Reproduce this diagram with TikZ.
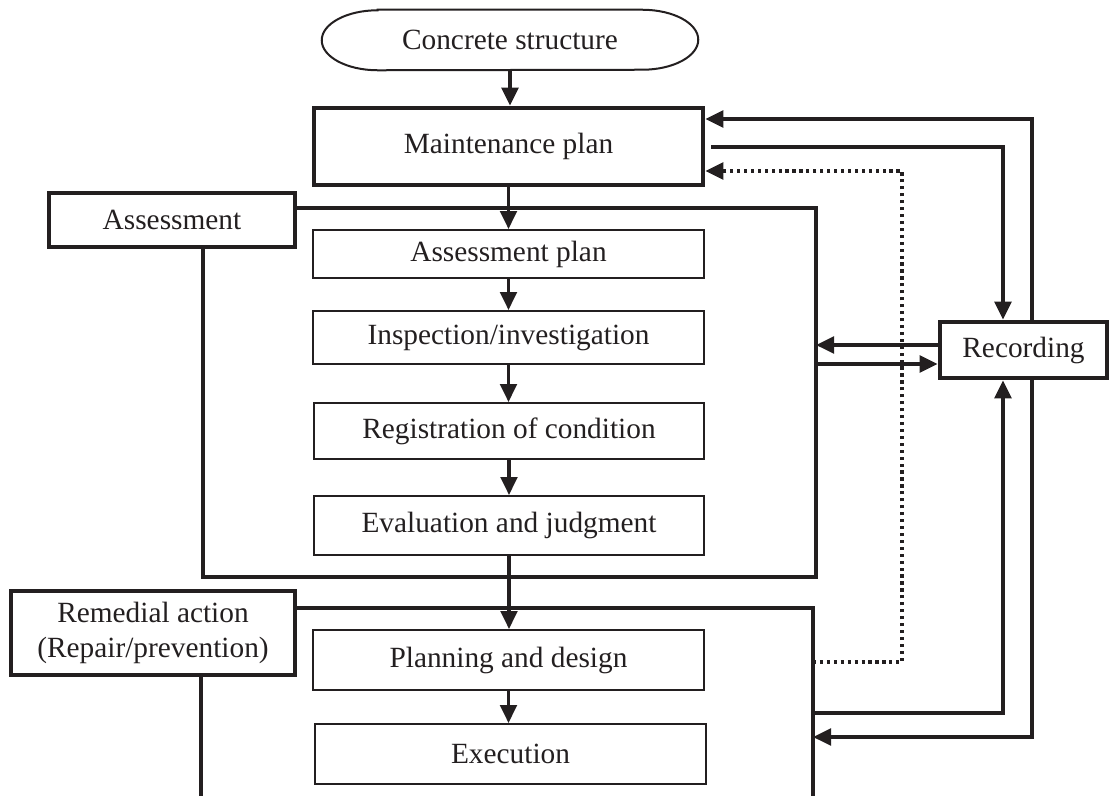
\documentclass[tikz,border=0pt]{standalone}
\usepackage{fontspec}
\setmainfont{Liberation Serif}
\usetikzlibrary{arrows.meta,calc}
\definecolor{ink}{RGB}{35,31,32}
\begin{document}
\begin{tikzpicture}[x=0.75pt,y=-0.75pt,
  every node/.style={font=\fontsize{22}{26}\selectfont, text=ink, inner sep=0pt, align=center},
  stepbox/.style={draw=ink, line width=1.5pt, minimum width=293pt},
  heavybox/.style={draw=ink, line width=3.5pt},
  conn/.style={draw=ink, line width=2.5pt},
  arr/.style={conn, -{Triangle[length=13.5pt,width=12.5pt]}},
  frameline/.style={draw=ink, line width=2.5pt},
  feedback/.style={draw=ink, line width=2.7pt, dash pattern=on 2.4pt off 2.8pt,
                   -{Triangle[length=13.5pt,width=12.5pt]}},
]
\useasboundingbox (0,0) rectangle (1110,796);

% start terminal with elliptical ends
\node[minimum width=282pt, minimum height=45pt] (cs) at (510,40) {Concrete structure};
\draw[ink, line width=1.5pt]
  ($(cs.north west)+(42pt,0)$) -- ($(cs.north east)+(-42pt,0)$)
  arc[start angle=90, end angle=-90, x radius=42pt, y radius=22.5pt]
  -- ($(cs.south west)+(42pt,0)$)
  arc[start angle=270, end angle=90, x radius=42pt, y radius=22.5pt] -- cycle;

% main boxes
\node[heavybox, minimum width=291.75pt, minimum height=57.75pt] (mp) at (508.5,146.5) {Maintenance plan};
\node[heavybox, minimum width=184.5pt, minimum height=40.5pt] (al) at (172,220) {Assessment};
\node[stepbox, minimum height=36pt]    (ap)  at (508.5,254)   {Assessment plan};
\node[stepbox, minimum height=39.75pt] (ins) at (508.5,337.5) {Inspection/investigation};
\node[stepbox, minimum height=42pt]    (reg) at (509,431)     {Registration of condition};
\node[stepbox, minimum height=44.25pt] (ev)  at (509,525.5)   {Evaluation and judgment};
\node[heavybox, minimum width=213pt, minimum height=63pt] (rl) at (153,633) {Remedial action\\(Repair/prevention)};
\node[stepbox, minimum height=45pt]    (pd)  at (508.5,660)   {Planning and design};
\node[stepbox, minimum height=45pt]    (ex)  at (510.5,754)   {Execution};
\node[heavybox, minimum width=125.25pt, minimum height=42pt] (rec) at (1023.5,350) {Recording};

% group frames
\coordinate (afTR) at (816,208);
\coordinate (afBL) at (203,577);
\coordinate (rfTR) at (813,608);
\coordinate (rfBR) at (813,796);
\coordinate (rfBL) at (201,796);
\draw[frameline] (al.east |- afTR) -- (afTR) -- (afTR |- afBL) -- (afBL) -- (afBL |- al.south);
\draw[frameline] (rl.east |- rfTR) -- (rfTR) -- (rfBR);
\draw[frameline] (rfBL |- rl.south) -- (rfBL);

% main flow
\draw[arr] (cs.south) -- (cs.south |- mp.north);
\draw[arr] (mp.south) -- (mp.south |- ap.north);
\draw[arr] (ap.south) -- (ap.south |- ins.north);
\draw[arr] (ins.south) -- (ins.south |- reg.north);
\draw[arr] (reg.south) -- (reg.south |- ev.north);
\draw[arr] (ev.south) -- (ev.south |- pd.north);
\draw[arr] (pd.south) -- (pd.south |- ex.north);

% recording loops
\coordinate (up1) at (1032,119);
\coordinate (up2) at (1003,147);
\coordinate (fb)  at (902,171);
\coordinate (fbB) at (902,662);
\coordinate (r1)  at (940,345);
\coordinate (r2)  at (940,364);
\coordinate (lo1) at (1003,713);
\coordinate (lo2) at (1032,737);

\draw[arr] (up1 |- rec.north) -- (up1) -- (up1 -| mp.east);
\draw[arr] ($(mp.east |- up2)+(4.5pt,0)$) -- (up2) -- (up2 |- rec.north);
\draw[feedback] (fbB -| rfTR) -- (fbB) -- (fb) -- (fb -| mp.east);
\draw[arr] (rec.west |- r1) -- (r1 -| afTR);
\draw[arr] (r2 -| afTR) -- (rec.west |- r2);
\draw[arr] (lo1 -| rfTR) -- (lo1) -- (lo1 |- rec.south);
\draw[arr] (lo2 |- rec.south) -- (lo2) -- (lo2 -| rfTR);
\end{tikzpicture}
\end{document}
